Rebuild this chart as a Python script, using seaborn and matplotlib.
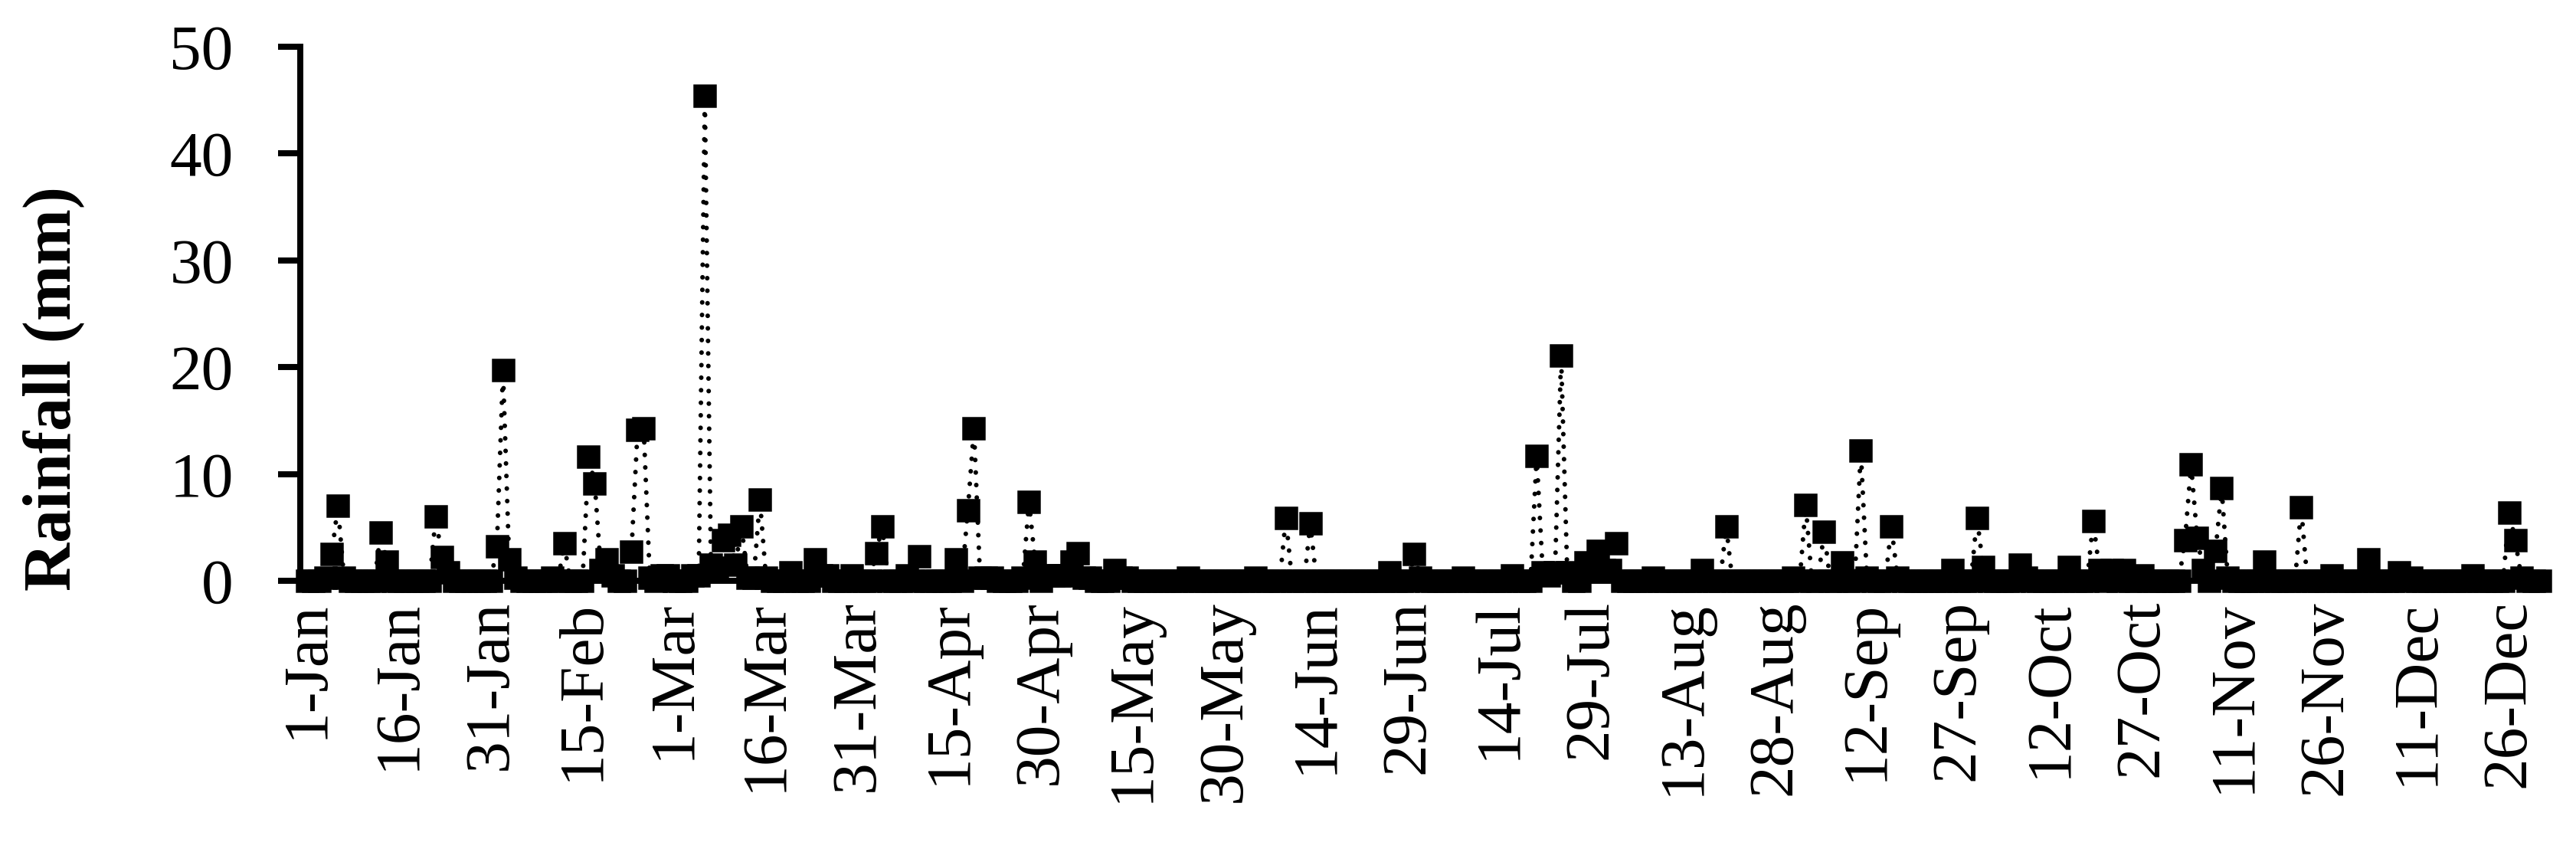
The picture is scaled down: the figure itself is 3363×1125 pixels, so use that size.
import numpy as np
import pandas as pd
import matplotlib
matplotlib.use("Agg")
import matplotlib.pyplot as plt
import seaborn as sns

# daily rainfall, leap year (366 days); days not listed had no rain
days_in_year = 366

rain_doy = [4, 5, 6, 7,
            13, 14,
            22, 23, 24,
            32, 33, 34, 35,
            41, 43,
            47, 48, 49, 50, 51,
            54, 55, 56, 57,
            59, 60,
            64, 65, 66, 67, 68, 69, 70, 71, 72, 73, 74, 75, 76,
            80, 84, 85, 86, 90, 94, 95, 99, 101,
            107, 109, 110, 111, 112, 113,
            118, 119, 120, 122, 123, 124, 125, 126, 127, 128, 129,
            133, 134, 135,
            145, 156, 161, 165, 178, 182, 183, 190, 198,
            202, 203, 204, 205, 206, 207, 210, 211, 212, 213, 214, 215,
            221, 229, 233,
            244, 246, 249, 252, 255, 256, 260, 261,
            270, 274, 275, 281, 282, 289, 293, 294, 296, 298,
            301, 308, 309, 310, 311, 313, 314, 315,
            321, 327, 332, 338, 343, 345, 355, 361, 362, 363]

rain_mm = [0.3, 2.5, 7.0, 0.3,
           4.5, 1.8,
           6.0, 2.2, 0.8,
           3.2, 19.7, 2.0, 0.3,
           0.3, 3.5,
           11.6, 9.1, 1.0, 2.0, 0.5,
           2.7, 14.1, 14.3, 0.3,
           0.5, 0.5,
           0.5, 0.5, 45.4, 1.5, 1.2, 3.8, 4.3, 1.5, 5.1, 0.3, 0.3, 7.6, 0.3,
           0.8, 2.0, 0.5, 0.5, 0.5, 2.6, 5.1, 0.5, 2.3,
           2.0, 6.6, 14.3, 0.3, 0.3, 0.3,
           0.3, 7.4, 1.8, 0.5, 0.5, 0.5, 0.5, 1.8, 2.6, 0.3, 0.3,
           1.0, 0.3, 0.3,
           0.3, 0.3, 5.9, 5.4, 0.8, 2.5, 0.3, 0.3, 0.5,
           11.7, 0.8, 0.5, 0.8, 21.1, 0.8, 1.7, 1.0, 2.8, 1.0, 1.0, 3.5,
           0.3, 1.0, 5.1,
           0.3, 7.1, 4.6, 1.7, 12.2, 0.3, 5.1, 0.3,
           1.0, 5.9, 1.3, 1.5, 0.3, 1.3, 5.6, 1.0, 1.0, 1.0,
           0.5, 3.8, 10.9, 4.0, 1.0, 2.8, 8.7, 0.3,
           1.8, 6.9, 0.5, 2.0, 0.8, 0.3, 0.5, 6.4, 3.8, 0.3]

tick_labels = ["1-Jan", "16-Jan", "31-Jan", "15-Feb", "1-Mar", "16-Mar",
               "31-Mar", "15-Apr", "30-Apr", "15-May", "30-May", "14-Jun",
               "29-Jun", "14-Jul", "29-Jul", "13-Aug", "28-Aug", "12-Sep",
               "27-Sep", "12-Oct", "27-Oct", "11-Nov", "26-Nov", "11-Dec",
               "26-Dec"]

rain = np.zeros(days_in_year)
rain[np.array(rain_doy) - 1] = rain_mm
df = pd.DataFrame({"doy": np.arange(1, days_in_year + 1), "rain": rain})

sns.set_style("ticks", {"axes.edgecolor": "black", "xtick.color": "black",
                        "ytick.color": "black", "text.color": "black",
                        "axes.labelcolor": "black"})
plt.rcParams["font.family"] = ["Liberation Serif", "DejaVu Serif"]

fig = plt.figure(figsize=(3363 / 300, 1125 / 300), dpi=300)
ax = fig.add_axes([0.1166, 0.3262, 0.9871 - 0.1166, 0.9458 - 0.3262])

sns.lineplot(data=df, x="doy", y="rain", ax=ax, color="black",
             marker="s", markersize=6.6, markeredgewidth=0.6,
             markeredgecolor="black", linewidth=1.45, clip_on=False)

line = ax.lines[0]
line.set_linestyle((0, (0.01, 2.7)))
line.set_dash_capstyle("round")

ax.set_ylim(0, 50)
ax.set_xlim(-0.13, 366.5)
ax.set_yticks(range(0, 51, 10))
ax.set_xticks(range(1, days_in_year + 1, 15))
ax.set_xticklabels(tick_labels, rotation=90)

ax.tick_params(axis="x", length=0, pad=6, labelsize=20)
ax.tick_params(axis="y", length=7, width=1.9, pad=14, labelsize=20,
               direction="out")
sns.despine(ax=ax)
for side in ["left", "bottom"]:
    ax.spines[side].set_linewidth(1.9)

ax.set_xlabel("")
ax.set_ylabel("Rainfall (mm)", fontsize=21, fontweight="bold")
ax.yaxis.set_label_coords(-0.0963, 0.36)

fig.savefig("out.png", dpi=300)
